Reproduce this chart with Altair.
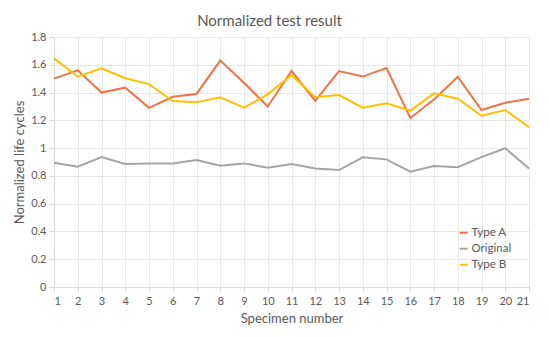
import altair as alt
import pandas as pd

specimens = list(range(1, 22))
type_a = [1.50, 1.56, 1.40, 1.435, 1.29, 1.37, 1.39, 1.63, 1.47, 1.30, 1.555,
          1.34, 1.555, 1.515, 1.577, 1.217, 1.35, 1.514, 1.274, 1.327, 1.356]
original = [0.895, 0.866, 0.935, 0.886, 0.890, 0.890, 0.914, 0.873, 0.890, 0.859, 0.886,
            0.854, 0.842, 0.934, 0.919, 0.830, 0.871, 0.862, 0.935, 0.999, 0.854]
type_b = [1.646, 1.514, 1.574, 1.503, 1.461, 1.339, 1.330, 1.366, 1.291, 1.387, 1.526,
          1.366, 1.382, 1.291, 1.322, 1.270, 1.394, 1.356, 1.233, 1.274, 1.150]

series_names = ["Type A", "Original", "Type B"]
series_colors = ["#EE7446", "#A5A5A5", "#FFC000"]

rows = []
for name, vals in zip(series_names, [type_a, original, type_b]):
    for s, v in zip(specimens, vals):
        rows.append({"Specimen": s, "Value": v, "Series": name})
df = pd.DataFrame(rows)

FONT = "Lato"
TXT = "#595959"

chart = alt.Chart(df).mark_line(strokeWidth=2).encode(
    x=alt.X("Specimen:Q",
            scale=alt.Scale(domain=[1, 21], nice=False, zero=False),
            axis=alt.Axis(values=specimens, title="Specimen number",
                          titleY=31, titleBaseline="middle",
                          titleFontSize=13, titleFontWeight="normal", titleColor=TXT, titleFont=FONT,
                          labelFontSize=11, labelColor=TXT, labelFont=FONT, labelPadding=4,
                          tickSize=4, tickColor="#D9D9D9", domainColor="#D9D9D9",
                          gridColor="#E8E8E8")),
    y=alt.Y("Value:Q",
            scale=alt.Scale(domain=[0, 1.8], nice=False),
            axis=alt.Axis(values=[0, 0.2, 0.4, 0.6, 0.8, 1.0, 1.2, 1.4, 1.6, 1.8],
                          format=".1~f", title="Normalized life cycles",
                          titleX=-35, titleY=125, titleAngle=-90, titleAlign="center",
                          titleBaseline="middle",
                          titleFontSize=13, titleFontWeight="normal", titleColor=TXT, titleFont=FONT,
                          labelFontSize=11, labelColor=TXT, labelFont=FONT, labelPadding=3,
                          tickSize=5, tickColor="#D9D9D9", domainColor="#D9D9D9",
                          gridColor="#E8E8E8")),
    color=alt.Color("Series:N",
                    scale=alt.Scale(domain=series_names, range=series_colors),
                    legend=alt.Legend(title=None, orient="none", legendX=404, legendY=190,
                                      symbolType="stroke", symbolSize=64, symbolStrokeWidth=2,
                                      labelFontSize=11.5, labelColor=TXT, labelFont=FONT,
                                      labelOffset=2, rowPadding=3)),
    order=alt.Order("Specimen:Q"),
).properties(
    width=475,
    height=250,
    autosize=alt.AutoSizeParams(type="none"),
    padding={"left": 46, "top": 29, "right": 12, "bottom": 43},
    title=alt.TitleParams("Normalized test result", fontSize=15, font=FONT, color=TXT,
                          fontWeight="normal", anchor="middle", dx=-22, offset=2),
).configure_view(stroke="#E8E8E8")

chart.save("out.html", embed_options={"renderer": "svg", "actions": False})
